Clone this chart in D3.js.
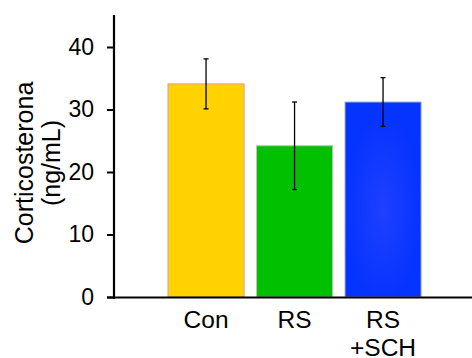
<!DOCTYPE html>
<html>
<head>
<meta charset="utf-8">
<script src="https://cdn.jsdelivr.net/npm/d3@7"></script>
<style>
  html, body { margin: 0; padding: 0; background: #fff; }
  svg { display: block; font-family: "Liberation Sans", Arial, sans-serif; }
</style>
</head>
<body>
<div id="chart"></div>
<script>
// Data
const groups = ['Con', 'RS', 'RS\n+SCH'];
const means = [34.1, 24.2, 31.2];
const errors = [4, 7, 3.9];
const yTicks = [0, 10, 20, 30, 40];
const barFills = ['#FFD200', '#00C000', '#0533FF'];
const barStrokes = ['#E49A9A', '#B8C4B8', '#A8B0D8'];

const width = 472, height = 358;

const svg = d3.select('#chart').append('svg')
  .attr('width', width)
  .attr('height', height);

// Soft glow in the blue bar
const defs = svg.append('defs');
const grad = defs.append('radialGradient').attr('id', 'blueGlow')
  .attr('cx', '0.5').attr('cy', '0.55').attr('r', '0.5');
grad.append('stop').attr('offset', '0%').attr('stop-color', '#1E40FF');
grad.append('stop').attr('offset', '100%').attr('stop-color', '#0533FF');

const y = d3.scaleLinear().domain([0, 45]).range([297, 15.75]);
const x = d3.scaleBand().domain(groups).range([161.8, 427.3])
  .paddingInner(0.14).paddingOuter(0.07);

// Bars
svg.append('g').selectAll('rect')
  .data(groups).enter().append('rect')
  .attr('x', d => x(d))
  .attr('y', (d, i) => y(means[i]))
  .attr('width', x.bandwidth())
  .attr('height', (d, i) => y(0) - y(means[i]))
  .attr('fill', (d, i) => i === 2 ? 'url(#blueGlow)' : barFills[i])
  .attr('stroke', (d, i) => barStrokes[i])
  .attr('stroke-width', 1);

// Error bars
const eb = svg.append('g').attr('stroke', '#000').attr('stroke-width', 1.3);
groups.forEach((d, i) => {
  const cx = x(d) + x.bandwidth() / 2;
  const top = y(means[i] + errors[i]);
  const bot = y(means[i] - errors[i]);
  eb.append('line').attr('x1', cx).attr('x2', cx).attr('y1', top).attr('y2', bot);
  eb.append('line').attr('x1', cx - 2.5).attr('x2', cx + 2.5).attr('y1', top).attr('y2', top);
  eb.append('line').attr('x1', cx - 2.5).attr('x2', cx + 2.5).attr('y1', bot).attr('y2', bot);
});

// Y axis
const yAxis = d3.axisLeft(y).tickValues(yTicks).tickSize(7).tickPadding(13);
const ya = svg.append('g').attr('transform', 'translate(114,0)').call(yAxis);
ya.select('.domain').remove();
ya.selectAll('.tick line').attr('stroke', '#000').attr('stroke-width', 2);
ya.selectAll('.tick text')
  .attr('font-size', '23px')
  .attr('font-family', '"Liberation Sans", Arial, sans-serif')
  .attr('fill', '#000');
svg.append('line')
  .attr('x1', 114).attr('x2', 114)
  .attr('y1', 15).attr('y2', 299)
  .attr('stroke', '#000').attr('stroke-width', 2.2);

// X axis line
svg.append('line')
  .attr('x1', 107).attr('x2', width)
  .attr('y1', 297.5).attr('y2', 297.5)
  .attr('stroke', '#000').attr('stroke-width', 2.2);

// Category labels
const xl = svg.append('g').attr('font-size', '24.5px').attr('text-anchor', 'middle');
groups.forEach(d => {
  const t = xl.append('text')
    .attr('x', x(d) + x.bandwidth() / 2)
    .attr('y', 328);
  d.split('\n').forEach((line, j) => {
    t.append('tspan')
      .attr('x', x(d) + x.bandwidth() / 2)
      .attr('dy', j === 0 ? 0 : 27.5)
      .text(line);
  });
});

// Y title
const title = svg.append('text')
  .attr('transform', 'translate(33,163) rotate(-90)')
  .attr('text-anchor', 'middle')
  .attr('font-size', '25px');
title.append('tspan').attr('x', 0).attr('dy', 0).text('Corticosterona');
title.append('tspan').attr('x', 0).attr('dy', 27).text('(ng/mL)');
</script>
</body>
</html>
